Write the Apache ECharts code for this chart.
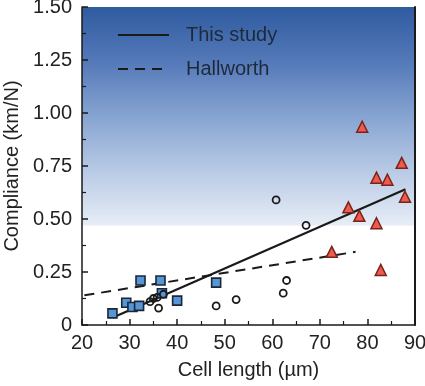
<!DOCTYPE html>
<html>
<head>
<meta charset="utf-8">
<script src="https://cdn.jsdelivr.net/npm/echarts@6/dist/echarts.min.js"></script>
<style>
  html, body { margin: 0; padding: 0; background: #fff; }
  #chart { width: 425px; height: 386px; }
</style>
</head>
<body>
<div id="chart"></div>
<script>
// blue squares [cell length, compliance]
const squarePts = [
  [26.4, 0.055], [29.3, 0.105], [30.6, 0.085], [32.0, 0.09],
  [32.3, 0.21], [36.5, 0.21], [36.8, 0.15], [40.0, 0.115], [48.2, 0.2]
];
// open circles
const circlePts = [
  [34.3, 0.11], [35.0, 0.125], [35.8, 0.13], [36.1, 0.08], [37.1, 0.145],
  [48.2, 0.09], [52.4, 0.12], [62.3, 0.15], [63.0, 0.21],
  [60.8, 0.59], [67.1, 0.47]
];
// red triangles
const trianglePts = [
  [78.9, 0.935], [87.2, 0.765], [81.9, 0.695], [84.2, 0.685],
  [76.0, 0.555], [78.3, 0.515], [81.9, 0.48], [87.9, 0.605],
  [72.5, 0.345], [82.8, 0.26]
];
// regression lines
const thisStudyLine = [[26.5, 0.035], [88.0, 0.64]];
const hallworthLine = [[20.5, 0.14], [77.5, 0.345]];

const yTicks = [0, 0.25, 0.5, 0.75, 1.0, 1.25, 1.5];
const xTicks = [20, 30, 40, 50, 60, 70, 80, 90];

const chart = echarts.init(document.getElementById('chart'));
const font = 'Liberation Sans, Arial, sans-serif';
const axisCol = '#1a1a1a';

// shaded band stops where the blue wash ends (~0.47 on the y scale)
const yMax = yTicks[yTicks.length - 1];
const washEnd = (yMax - 0.47) / yMax;

chart.setOption({
  animation: false,
  textStyle: { fontFamily: font },
  grid: {
    left: 82, right: 10, top: 7, bottom: 61, z: -1,
    outerBoundsMode: 'none',
    show: true, borderWidth: 0,
    backgroundColor: new echarts.graphic.LinearGradient(0, 0, 0, 1, [
      { offset: 0, color: '#2f5b9f' },
      { offset: washEnd * 0.25, color: '#5479b9' },
      { offset: washEnd * 0.5, color: '#86a4d1' },
      { offset: washEnd * 0.75, color: '#b8cae5' },
      { offset: washEnd, color: '#e6edf6' },
      { offset: washEnd + 0.001, color: '#ffffff' },
      { offset: 1, color: '#ffffff' }
    ])
  },
  legend: {
    left: 117, top: 25, orient: 'vertical', padding: 0,
    itemWidth: 51, itemHeight: 12, itemGap: 14,
    itemStyle: { color: 'rgba(0,0,0,0)', borderWidth: 0 },
    textStyle: { fontSize: 20, color: '#1e2a3a', fontFamily: font, padding: [0, 0, 0, 12] },
    data: ['This study', 'Hallworth']
  },
  xAxis: {
    type: 'value', min: xTicks[0], max: xTicks[xTicks.length - 1], interval: 10, z: 5,
    name: 'Cell length (\u00b5m)', nameLocation: 'middle', nameGap: 35,
    nameTextStyle: { fontSize: 20, color: '#222' },
    axisLine: { lineStyle: { color: axisCol, width: 1.5 } },
    axisTick: { inside: true, length: 6, lineStyle: { color: axisCol, width: 1.5 } },
    minorTick: { show: true, splitNumber: 2, length: 4, lineStyle: { color: axisCol, width: 1.2 } },
    axisLabel: { fontSize: 20, color: '#222', margin: 8 },
    splitLine: { show: false }
  },
  yAxis: [{
    type: 'value', min: yTicks[0], max: yMax, interval: 0.25, z: 5,
    name: 'Compliance (km/N)', nameLocation: 'middle', nameGap: 58,
    nameTextStyle: { fontSize: 20, color: '#222' },
    axisLine: { show: true, lineStyle: { color: axisCol, width: 1.5 } },
    axisTick: { inside: true, length: 6, lineStyle: { color: axisCol, width: 1.5 } },
    minorTick: { show: true, splitNumber: 2, length: 4, lineStyle: { color: axisCol, width: 1.2 } },
    axisLabel: {
      fontSize: 20, color: '#222', margin: 10,
      formatter: v => (v === 0 ? '0' : v.toFixed(2))
    },
    splitLine: { show: false }
  }, {
    type: 'value', position: 'right', min: 0, max: yMax, z: 5,
    axisLine: { show: true, lineStyle: { color: axisCol, width: 2 } },
    axisTick: { show: false }, axisLabel: { show: false }, splitLine: { show: false }
  }],
  series: [
    {
      name: 'This study', type: 'line', data: thisStudyLine, symbol: 'none',
      lineStyle: { color: '#1a1a1a', width: 2.2 }, itemStyle: { color: '#1a1a1a' }, z: 3
    },
    {
      name: 'Hallworth', type: 'line', data: hallworthLine, symbol: 'none',
      lineStyle: { color: '#1a1a1a', width: 2, type: [10, 7] }, itemStyle: { color: '#1a1a1a' }, z: 3
    },
    {
      name: 'squares', type: 'scatter', data: squarePts, symbol: 'rect', symbolSize: 9,
      itemStyle: { color: '#5596d6', borderColor: '#1c2636', borderWidth: 1.6, opacity: 1 }, z: 4
    },
    {
      name: 'circles', type: 'scatter', data: circlePts, symbol: 'circle', symbolSize: 7,
      itemStyle: { color: 'rgba(255,255,255,0)', borderColor: '#1a1a1a', borderWidth: 1.8, opacity: 1 }, z: 4
    },
    {
      name: 'triangles', type: 'scatter', data: trianglePts, symbol: 'triangle', symbolSize: 11,
      itemStyle: { color: '#ec5a50', borderColor: '#7a2418', borderWidth: 1.5, opacity: 1 }, z: 4
    }
  ]
});
</script>
</body>
</html>
